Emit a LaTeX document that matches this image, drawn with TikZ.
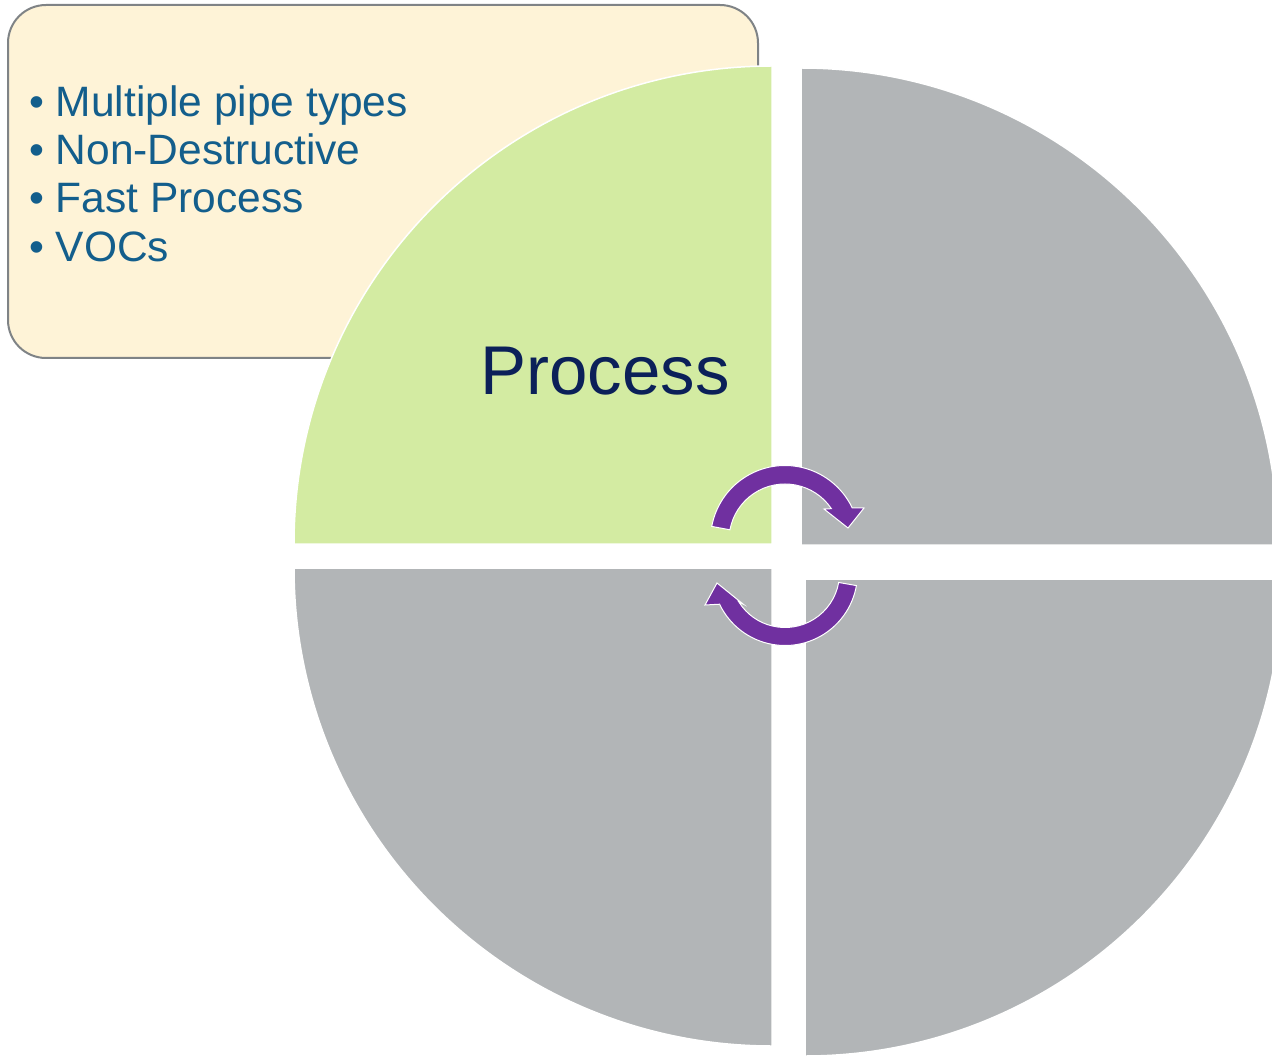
\documentclass[tikz,border=0pt]{standalone}
\usepackage{fontspec}
\setmainfont{Liberation Sans}
\usetikzlibrary{calc}
\definecolor{boxfill}{HTML}{FEF3D7}
\definecolor{boxline}{HTML}{7F8386}
\definecolor{greenq}{HTML}{D3EBA2}
\definecolor{greyq}{HTML}{B2B5B7}
\definecolor{arrowpurple}{HTML}{7030A0}
\definecolor{bullettext}{HTML}{135E8C}
\definecolor{titletext}{HTML}{0B2059}
\tikzset{
  quarter/.style={draw=white, line width=1.5pt},
  cyclearrow/.style={fill=arrowpurple, draw=white, line width=1pt, line join=miter},
  bulletline/.style={anchor=base west, inner sep=0pt, text=bullettext, font=\fontsize{42.5}{48}\selectfont},
  titlelabel/.style={anchor=base, inner sep=0pt, text=titletext, font=\fontsize{69}{80}\selectfont}
}
\begin{document}
\begin{tikzpicture}[x=1pt,y=-1pt]
\useasboundingbox (0,0) rectangle (1272,1056);
\clip (0,0) rectangle (1272,1056);
% info box
\draw[fill=boxfill, draw=boxline, line width=2pt, rounded corners=38pt] (8,5) rectangle (758,358);
\node[bulletline] (l1) at (29,117) {• Multiple pipe types};
\node[bulletline] (l2) at (29,165) {• Non-Destructive};
\node[bulletline] (l3) at (29,213) {• Fast Process};
\node[bulletline] (l4) at (29,262) {• VOCs};
% quarters
\coordinate (cg) at (772,544);
\coordinate (ctr) at (801,545);
\coordinate (cbr) at (805,579);
\coordinate (cbl) at (772,568);
\fill[quarter, fill=greenq] (cg) -- (294,544) arc[start angle=180, end angle=270, radius=478] -- cycle;
\fill[quarter, fill=greyq] (ctr) -- (801,68) arc[start angle=270, end angle=360, radius=477] -- cycle;
\fill[quarter, fill=greyq] (cbr) -- (1282,579) arc[start angle=0, end angle=90, radius=477] -- cycle;
\fill[quarter, fill=greyq] (cbl) -- (772,1046) arc[start angle=90, end angle=180, radius=478] -- cycle;
\node[titlelabel] (title) at (605,395) {Process};
% cycle arrows
\coordinate (ca1) at (785,540);
\coordinate (ca2) at (785,573);
\filldraw[cyclearrow] ($(ca1)+(-169.5:74.5)$) arc[start angle=-169.5, end angle=-25.6, radius=74.5]
  -- (864,508) -- (848,528) -- (824,509)
  -- ($(ca1)+(-34:56)$) arc[start angle=-34, end angle=-169.5, radius=56] -- cycle;
\filldraw[cyclearrow] ($(ca2)+(10:72.5)$) arc[start angle=10, end angle=154.5, radius=72.5]
  -- (705,605) -- (717,583) -- (743,604)
  -- ($(ca2)+(148:54.5)$) arc[start angle=148, end angle=10, radius=54.5] -- cycle;
\end{tikzpicture}
\end{document}
